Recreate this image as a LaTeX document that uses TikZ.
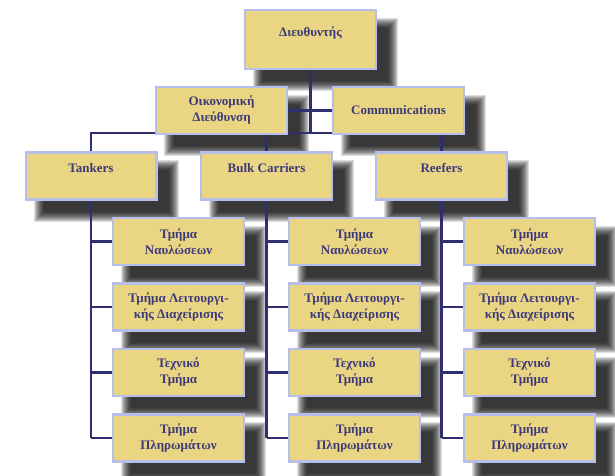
\documentclass[tikz,border=0pt]{standalone}
\usepackage{fontspec}
\setmainfont{Liberation Serif}
\usetikzlibrary{calc}
\pgfdeclarelayer{shadow}
\pgfdeclarelayer{lines}
\pgfsetlayers{shadow,lines,main}
\definecolor{boxfill}{HTML}{EAD583}
\definecolor{boxborder}{HTML}{B6BEEC}
\definecolor{txt}{HTML}{3C3A7A}
\definecolor{navy}{HTML}{2E2E70}
\tikzset{
  orgbox/.style={draw=boxborder, line width=2.4pt, fill=boxfill,
    minimum width=130.6pt, minimum height=47pt, inner sep=0pt,
    align=center, text=txt, font=\fontsize{13}{16}\selectfont\bfseries},
  conn/.style={draw=navy, line width=2.8pt}
}
\begin{document}
\begin{tikzpicture}[x=1pt,y=-1pt]
\useasboundingbox (0,0) rectangle (615,475);
% boxes
\node[orgbox, minimum height=58.6pt] (dir) at (310.5,39.5) {Διευθυντής\\~};
\node[orgbox] (oik) at (221.5,110.5) {Οικονομική\\Διεύθυνση};
\node[orgbox] (comm) at (398.5,110.5) {Communications};
\node[orgbox] (tank) at (91,176) {Tankers\\~};
\node[orgbox] (bulk) at (266.5,176) {Bulk Carriers\\~};
\node[orgbox] (reef) at (441.5,176) {Reefers\\~};
\foreach \c/\x in {t/178.5, b/354.5, r/529.5}{
  \node[orgbox] (\c1) at (\x,241.5) {Τμήμα\\Ναυλώσεων};
  \node[orgbox] (\c2) at (\x,307) {Τμήμα Λειτουργι-\\κής Διαχείρισης};
  \node[orgbox] (\c3) at (\x,372.5) {Τεχνικό\\Τμήμα};
  \node[orgbox] (\c4) at (\x,438) {Τμήμα\\Πληρωμάτων};
}
\coordinate (bus) at (310.5,133);
% shadows
\begin{pgfonlayer}{shadow}
\foreach \n in {dir,oik,comm,tank,bulk,reef,t1,t2,t3,t4,b1,b2,b3,b4,r1,r2,r3,r4}{
  \foreach \e in {6,5,4,3,2,1,0,-1,-2,-3,-4}{
    \fill[black, opacity=0.13]
      ([shift={(15-\e,15-\e)}]\n.north west) rectangle
      ([shift={(15+\e,15+\e)}]\n.south east);
  }
}
\end{pgfonlayer}
% connectors
\begin{pgfonlayer}{lines}
\draw[conn] (dir.south) -- (bus);
\draw[conn] (oik.east) -- (comm.west);
\draw[conn] (tank.north) -- (tank.north |- bus) -- (reef.north |- bus) -- (reef.north);
\draw[conn] (bulk.north |- bus) -- (bulk.north);
\foreach \p/\c in {tank/t, bulk/b, reef/r}{
  \draw[conn] (\p.south) -- (\p.south |- \c4.west);
  \foreach \i in {1,2,3,4}{
    \draw[conn] (\p.south |- \c\i.west) -- (\c\i.west);
  }
}
\end{pgfonlayer}
\end{tikzpicture}
\end{document}
